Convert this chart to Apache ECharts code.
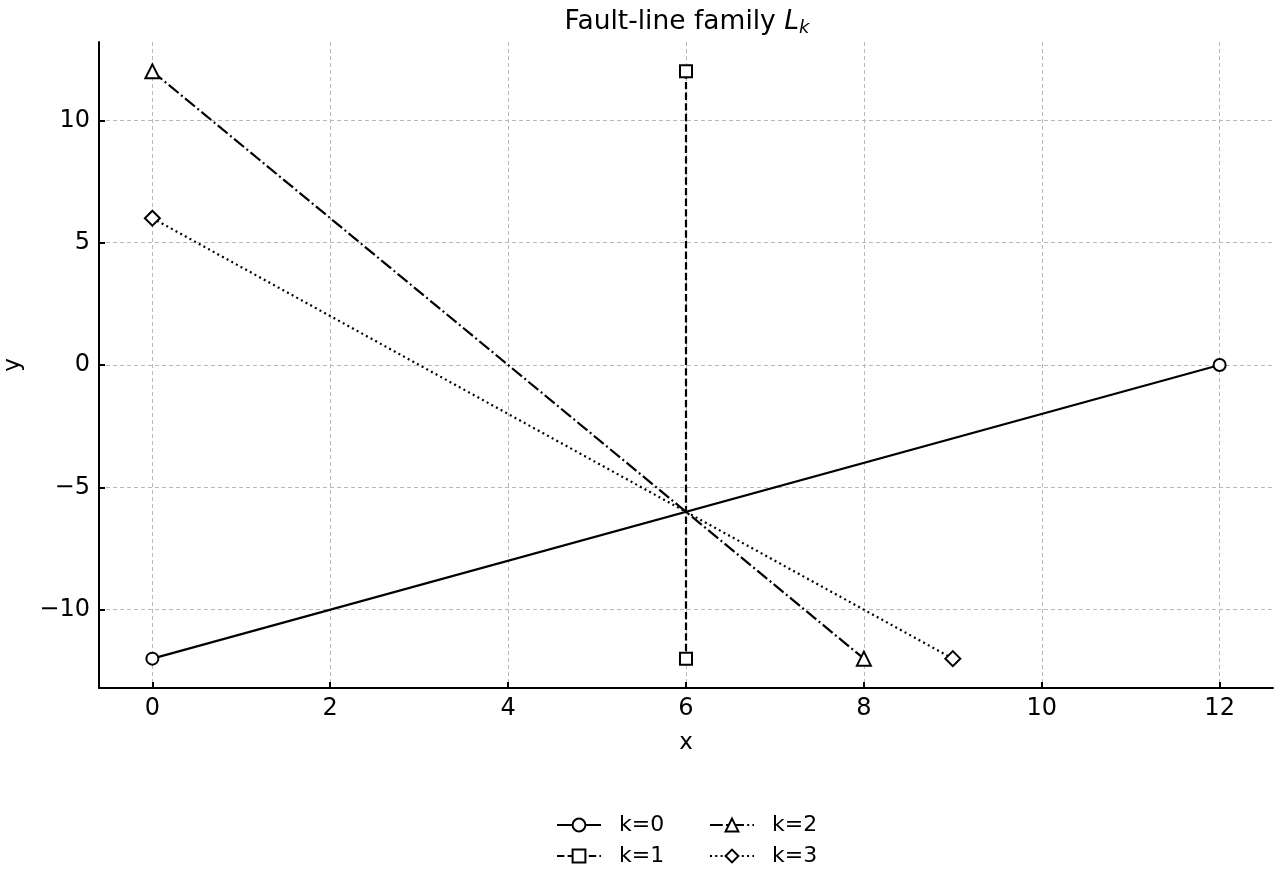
<!DOCTYPE html>
<html>
<head>
<meta charset="utf-8">
<script src="https://cdn.jsdelivr.net/npm/echarts@6/dist/echarts.min.js"></script>
<style>
  html, body { margin: 0; padding: 0; background: #fff; }
  #main { width: 1280px; height: 880px; }
</style>
</head>
<body>
<div id="main"></div>
<script>
// 数据
var names = ['k=0', 'k=1', 'k=2', 'k=3'];
var k0 = [[0, -12], [12, 0]];
var k1 = [[6, 12], [6, -12]];
var k2 = [[0, 12], [8, -12]];
var k3 = [[0, 6], [9, -12]];
var xTicks = [0, 2, 4, 6, 8, 10, 12];
var yTicks = [-10, -5, 0, 5, 10];

var font = 'DejaVu Sans';
var myChart = echarts.init(document.getElementById('main'));

function minus(v) {
    return v < 0 ? '\u2212' + Math.abs(v) : String(v);
}

function line(name, data, symbol, size, type) {
    return {
        name: name,
        type: 'line',
        data: data,
        symbol: symbol,
        symbolSize: size,
        showAllSymbol: true,
        lineStyle: { color: '#000', width: 2.2, type: type },
        itemStyle: { color: '#fff', borderColor: '#000', borderWidth: 2 },
        emphasis: { disabled: true },
        animation: false
    };
}

var axisCommon = {
    axisLine: { onZero: false, lineStyle: { color: '#000', width: 2 } },
    axisTick: { inside: true, length: 6, lineStyle: { color: '#000', width: 2 } },
    axisLabel: { color: '#000', fontSize: 24, fontFamily: font, margin: 9 },
    splitLine: { show: true, lineStyle: { color: '#b8b8b8', width: 1, type: [4, 3] } },
    nameTextStyle: { color: '#000', fontSize: 23, fontFamily: font }
};

// 图例：两列
var legendCommon = {
    orient: 'vertical',
    top: 814,
    padding: 0,
    itemWidth: 44,
    itemHeight: 16,
    itemGap: 9,
    textStyle: { color: '#000', fontSize: 22, fontFamily: font, padding: [0, 0, 0, 13] }
};

var option = {
    backgroundColor: '#fff',
    animation: false,
    title: {
        text: '{a|Fault-line family }{i|L}{s|k}',
        left: 682,
        textAlign: 'center',
        top: 3,
        textStyle: {
            fontWeight: 'normal',
            rich: {
                a: { fontSize: 26.5, fontWeight: 'normal', fontFamily: font, color: '#000' },
                i: { fontSize: 26.5, fontWeight: 'normal', fontFamily: font, fontStyle: 'italic', color: '#000' },
                s: { fontSize: 18, fontWeight: 'normal', fontFamily: font, fontStyle: 'italic', color: '#000', padding: [11, 0, 0, 0] }
            }
        }
    },
    grid: { left: 99, right: 7, top: 42, bottom: 192, containLabel: false, outerBoundsMode: 'none' },
    legend: [
        Object.assign({}, legendCommon, { data: ['k=0', 'k=1'], left: 556 }),
        Object.assign({}, legendCommon, { data: ['k=2', 'k=3'], left: 709 })
    ],
    xAxis: Object.assign({}, axisCommon, {
        type: 'value',
        min: -0.6,
        max: 12.6,
        name: 'x',
        nameLocation: 'middle',
        nameGap: 44,
        axisTick: Object.assign({}, axisCommon.axisTick, { customValues: xTicks }),
        axisLabel: Object.assign({}, axisCommon.axisLabel, { customValues: xTicks, formatter: minus })
    }),
    yAxis: Object.assign({}, axisCommon, {
        type: 'value',
        min: -13.2,
        max: 13.2,
        name: 'y',
        nameLocation: 'middle',
        nameGap: 74,
        axisTick: Object.assign({}, axisCommon.axisTick, { customValues: yTicks }),
        axisLabel: Object.assign({}, axisCommon.axisLabel, { customValues: yTicks, formatter: minus })
    }),
    series: [
        line(names[0], k0, 'circle', 12, 'solid'),
        line(names[1], k1, 'rect', 12, [7.4, 3.2]),
        line(names[2], k2, 'triangle', 14, [12.8, 3.2, 2, 3.2]),
        line(names[3], k3, 'diamond', 15, [2, 3.3])
    ]
};

myChart.setOption(option);
</script>
</body>
</html>
